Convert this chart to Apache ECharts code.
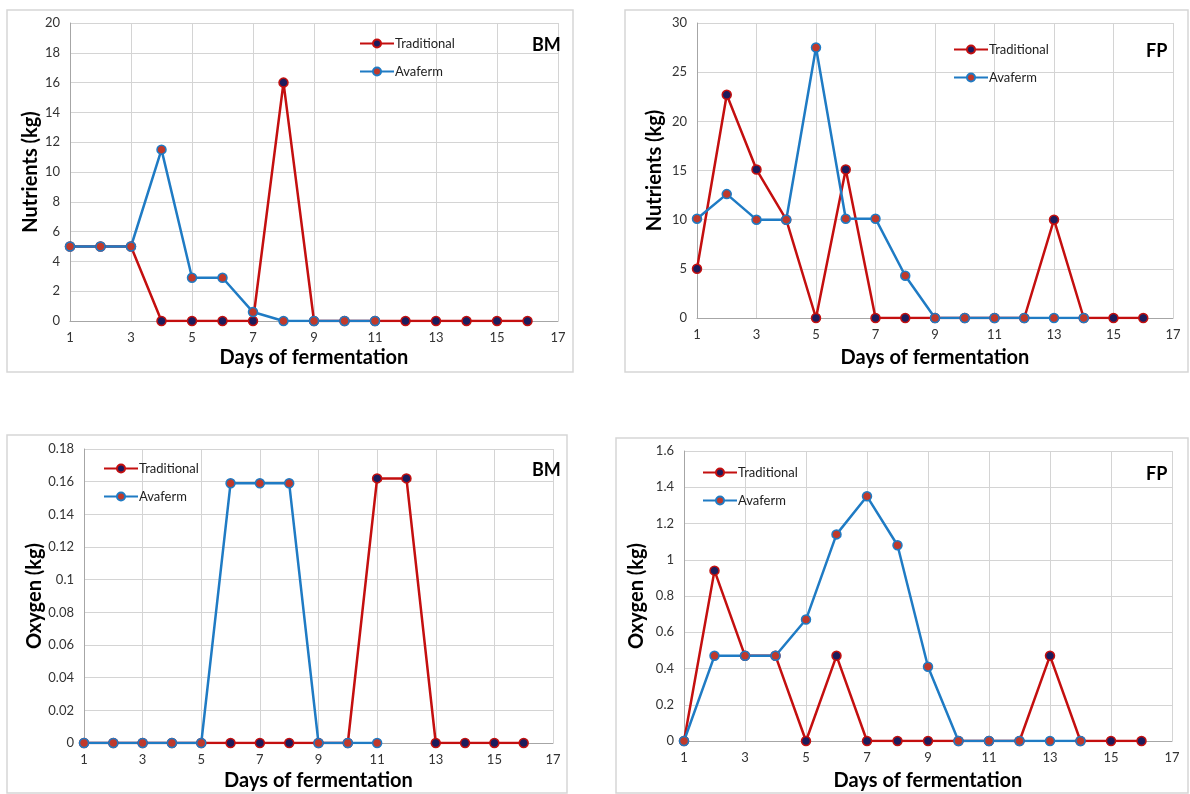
<!DOCTYPE html>
<html>
<head>
<meta charset="utf-8">
<script src="https://cdn.jsdelivr.net/npm/echarts@6/dist/echarts.min.js"></script>
<style>
  html, body { margin: 0; padding: 0; background: #fff; }
  #main { width: 1190px; height: 794px; }
</style>
</head>
<body>
<div id="main"></div>
<script>
// days of fermentation (x values)
var days = [1, 2, 3, 4, 5, 6, 7, 8, 9, 10, 11, 12, 13, 14, 15, 16];

// BM - nutrients
var bmNutTraditional = [5, 5, 5, 0, 0, 0, 0, 16, 0, 0, 0, 0, 0, 0, 0, 0];
var bmNutAvaferm = [5, 5, 5, 11.5, 2.9, 2.9, 0.6, 0, 0, 0, 0];

// FP - nutrients
var fpNutTraditional = [5, 22.7, 15.1, 10, 0, 15.1, 0, 0, 0, 0, 0, 0, 10, 0, 0, 0];
var fpNutAvaferm = [10.1, 12.6, 10, 10, 27.5, 10.1, 10.1, 4.3, 0, 0, 0, 0, 0, 0];

// BM - oxygen
var bmOxyTraditional = [0, 0, 0, 0, 0, 0, 0, 0, 0, 0, 0.162, 0.162, 0, 0, 0, 0];
var bmOxyAvaferm = [0, 0, 0, 0, 0, 0.159, 0.159, 0.159, 0, 0, 0];

// FP - oxygen
var fpOxyTraditional = [0, 0.94, 0.47, 0.47, 0, 0.47, 0, 0, 0, 0, 0, 0, 0.47, 0, 0, 0];
var fpOxyAvaferm = [0, 0.47, 0.47, 0.47, 0.67, 1.14, 1.35, 1.08, 0.41, 0, 0, 0, 0, 0];

var panelNames = ['BM', 'FP', 'BM', 'FP'];
var yNames = ['Nutrients (kg)', 'Nutrients (kg)', 'Oxygen (kg)', 'Oxygen (kg)'];
var yMax = [20, 30, 0.18, 1.6];
var yStep = [2, 5, 0.02, 0.2];

var RED = '#c40f0f';
var BLUE = '#1f7bc4';
var NAVY = '#1c1c5c';
var FONT = 'Lato';

var grids = [
    {left: 70, top: 23, width: 488, height: 298},
    {left: 697, top: 23, width: 476, height: 295},
    {left: 84, top: 449, width: 469, height: 294},
    {left: 684, top: 451, width: 488, height: 290}
];
var yNameGap = [23, 32, 39, 37];
var xNameGap = [27, 30, 28, 30];
var boxes = [
    {x: 7, y: 10, w: 566, h: 362},
    {x: 625, y: 10, w: 563, h: 362},
    {x: 7, y: 435, w: 560, h: 358},
    {x: 616, y: 438, w: 572, h: 355}
];
var legendPos = [
    {left: 354, top: 32},
    {left: 948, top: 38},
    {left: 98, top: 457},
    {left: 697, top: 461}
];
var titlePos = [
    {left: 527, top: 31},
    {left: 1141, top: 37},
    {left: 527, top: 456},
    {left: 1141, top: 460}
];

function toPairs(vals) {
    var out = [];
    for (var i = 0; i < vals.length; i++) {
        out.push([days[i], vals[i]]);
    }
    return out;
}

function lineSeries(idx, name, vals, lineColor, fill, edge) {
    return {
        name: name,
        type: 'line',
        xAxisIndex: idx,
        yAxisIndex: idx,
        data: toPairs(vals),
        symbol: 'circle',
        symbolSize: 9,
        showSymbol: true,
        lineStyle: {color: lineColor, width: 2.5},
        itemStyle: {color: fill, borderColor: edge, borderWidth: 1.5},
        emphasis: {disabled: true},
        animation: false
    };
}

var seriesData = [
    [bmNutTraditional, bmNutAvaferm],
    [fpNutTraditional, fpNutAvaferm],
    [bmOxyTraditional, bmOxyAvaferm],
    [fpOxyTraditional, fpOxyAvaferm]
];

var xAxes = [], yAxes = [], series = [], legends = [], titles = [], graphics = [];
for (var i = 0; i < 4; i++) {
    xAxes.push({
        type: 'value',
        gridIndex: i,
        min: 1,
        max: 17,
        interval: 2,
        name: 'Days of fermentation',
        nameLocation: 'middle',
        nameGap: xNameGap[i],
        nameTextStyle: {fontFamily: FONT, fontWeight: 'bold', fontSize: 20, color: '#000'},
        axisLine: {show: true, lineStyle: {color: '#a6a6a6', width: 1}},
        axisTick: {show: false},
        axisLabel: {fontFamily: FONT, fontSize: 13, color: '#333', margin: 10},
        splitLine: {show: true, lineStyle: {color: '#d4d4d4', width: 1}}
    });
    yAxes.push({
        type: 'value',
        gridIndex: i,
        min: 0,
        max: yMax[i],
        interval: yStep[i],
        name: yNames[i],
        nameLocation: 'middle',
        nameGap: yNameGap[i],
        nameTextStyle: {fontFamily: FONT, fontWeight: 'bold', fontSize: 20, color: '#000'},
        axisLine: {show: true, lineStyle: {color: '#a6a6a6', width: 1}},
        axisTick: {show: false},
        axisLabel: {fontFamily: FONT, fontSize: 13, color: '#333', margin: 10},
        splitLine: {show: true, lineStyle: {color: '#d4d4d4', width: 1}}
    });
    series.push(lineSeries(i, 'Traditional', seriesData[i][0], RED, NAVY, RED));
    series.push(lineSeries(i, 'Avaferm', seriesData[i][1], BLUE, '#c0392b', BLUE));
    legends.push({
        left: legendPos[i].left,
        top: legendPos[i].top,
        orient: 'vertical',
        itemWidth: 34,
        itemHeight: 10,
        itemGap: 15,
        selectedMode: false,
        data: ['Traditional', 'Avaferm'],
        textStyle: {fontFamily: FONT, fontSize: 13, color: '#222', padding: [0, 0, 0, -4]}
    });
    titles.push({
        text: panelNames[i],
        left: titlePos[i].left,
        top: titlePos[i].top,
        textStyle: {fontFamily: FONT, fontWeight: 'bold', fontSize: 18, color: '#000'}
    });
    graphics.push({
        type: 'rect',
        shape: {x: boxes[i].x, y: boxes[i].y, width: boxes[i].w, height: boxes[i].h},
        style: {fill: 'none', stroke: '#d6d6d6', lineWidth: 1.5},
        z: -1
    });
}

var option = {
    backgroundColor: '#fff',
    animation: false,
    title: titles,
    legend: legends,
    grid: grids,
    xAxis: xAxes,
    yAxis: yAxes,
    series: series,
    graphic: graphics
};

var chart = echarts.init(document.getElementById('main'));
chart.setOption(option);
</script>
</body>
</html>
